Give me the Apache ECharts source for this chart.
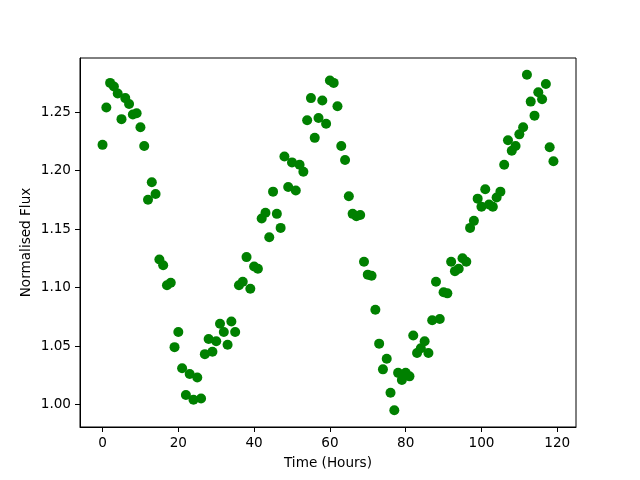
<!DOCTYPE html>
<html>
<head>
<meta charset="utf-8">
<script src="https://cdn.jsdelivr.net/npm/echarts@6/dist/echarts.min.js"></script>
<style>
  html, body { margin: 0; padding: 0; background: #fff; }
  #chart { width: 640px; height: 480px; }
</style>
</head>
<body>
<div id="chart"></div>
<script>
// hours 0..119, one reading per hour
const hours = Array.from({ length: 120 }, (_, i) => i);
const flux = [
  1.222, 1.254, 1.275, 1.272, 1.266, 1.244, 1.262, 1.257, 1.248, 1.249,
  1.237, 1.221, 1.175, 1.190, 1.180, 1.124, 1.119, 1.102, 1.104, 1.049,
  1.062, 1.031, 1.008, 1.026, 1.004, 1.023, 1.005, 1.043, 1.056, 1.045,
  1.054, 1.069, 1.062, 1.051, 1.071, 1.062, 1.102, 1.105, 1.126, 1.099,
  1.118, 1.116, 1.159, 1.164, 1.143, 1.182, 1.163, 1.151, 1.212, 1.186,
  1.207, 1.183, 1.205, 1.199, 1.243, 1.262, 1.228, 1.245, 1.260, 1.240,
  1.277, 1.275, 1.255, 1.221, 1.209, 1.178, 1.163, 1.161, 1.162, 1.122,
  1.111, 1.110, 1.081, 1.052, 1.030, 1.039, 1.010, 0.995, 1.027, 1.021,
  1.027, 1.024, 1.059, 1.044, 1.048, 1.054, 1.044, 1.072, 1.105, 1.073,
  1.096, 1.095, 1.122, 1.114, 1.116, 1.125, 1.122, 1.151, 1.157, 1.176,
  1.169, 1.184, 1.171, 1.169, 1.177, 1.182, 1.205, 1.226, 1.217, 1.221,
  1.231, 1.237, 1.282, 1.259, 1.247, 1.267, 1.261, 1.274, 1.220, 1.208
];
const xTicks = [0, 20, 40, 60, 80, 100, 120];
const yTicks = [1.00, 1.05, 1.10, 1.15, 1.20, 1.25];

const chart = echarts.init(document.getElementById("chart"));
const font = "DejaVu Sans";
const fs = 13.6;

chart.setOption({
  animation: false,
  textStyle: { fontFamily: font },
  grid: {
    left: 80, top: 58, width: 496, height: 369,
    show: true, borderColor: "#000", borderWidth: 1,
    containLabel: false,
  },
  xAxis: {
    type: "value",
    min: -5.95,
    max: 124.95,
    name: "Time (Hours)",
    nameLocation: "middle",
    nameGap: 29,
    nameTextStyle: { color: "#000", fontSize: fs, fontFamily: font },
    splitLine: { show: false },
    axisLine: { show: true, onZero: false, lineStyle: { color: "#000", width: 1 } },
    axisTick: { show: true, length: 5, lineStyle: { color: "#000" }, customValues: xTicks },
    axisLabel: {
      color: "#000", fontSize: fs, fontFamily: font, margin: 9,
      customValues: xTicks,
      formatter: (v) => String(v),
    },
  },
  yAxis: {
    type: "value",
    min: 0.9807,
    max: 1.2963,
    name: "Normalised Flux",
    nameLocation: "middle",
    nameGap: 47,
    nameMoveOverlap: false,
    nameTextStyle: { color: "#000", fontSize: fs, fontFamily: font },
    splitLine: { show: false },
    axisLine: { show: true, onZero: false, lineStyle: { color: "#000", width: 1 } },
    axisTick: { show: true, length: 5, lineStyle: { color: "#000" }, customValues: yTicks },
    axisLabel: {
      color: "#000", fontSize: fs, fontFamily: font, margin: 9,
      customValues: yTicks,
      formatter: (v) => v.toFixed(2),
    },
  },
  series: [
    {
      type: "scatter",
      data: hours.map((h, i) => [h, flux[i]]),
      symbol: "circle",
      symbolSize: 10,
      itemStyle: { color: "#008000", opacity: 1 },
    },
  ],
});
</script>
</body>
</html>
